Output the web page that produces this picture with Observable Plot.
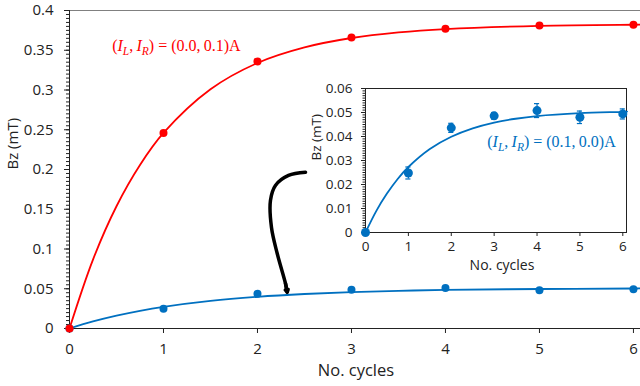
<!DOCTYPE html>
<html>
<head>
<meta charset="utf-8">
<script src="https://cdn.jsdelivr.net/npm/d3@7"></script>
<script src="https://cdn.jsdelivr.net/npm/@observablehq/plot@0.6"></script>
<style>
  html, body { margin: 0; padding: 0; background: white; }
  #wrap { position: relative; width: 640px; height: 386px; }
  #inset { position: absolute; left: 300px; top: 75px; }
</style>
</head>
<body>
<div id="wrap"><div id="main"></div><div id="inset"></div></div>
<script>
// ---- data ----
const cycles = [0, 1, 2, 3, 4, 5, 6];
const bzRed = [0, 0.246, 0.336, 0.366, 0.377, 0.381, 0.382];
const bzBlue = [0, 0.0248, 0.0436, 0.0486, 0.0508, 0.0480, 0.0494];
const bzBlueErr = [0, 0.0025, 0.0019, 0.0014, 0.0029, 0.0026, 0.0021];
const fitX = [0, 0.25, 0.5, 0.75, 1, 1.5, 2, 2.5, 3, 3.5, 4, 5, 6, 6.1];
const fitRed = [0, 0.0867, 0.1538, 0.2057, 0.246, 0.3009, 0.334, 0.3536, 0.3654, 0.3725, 0.3767, 0.3807, 0.3821, 0.3822];
const fitBlue = [0, 0.0089, 0.0162, 0.0223, 0.0273, 0.0348, 0.0399, 0.0434, 0.0458, 0.0474, 0.0485, 0.0497, 0.0503, 0.0504];
const arrowX = [2.511, 2.33, 2.191, 2.138, 2.149, 2.21, 2.298, 2.316];
const arrowY = [0.1966, 0.1925, 0.1799, 0.161, 0.127, 0.0943, 0.0566, 0.0457];

const xTicks = [0, 1, 2, 3, 4, 5, 6];
const yTicksMain = [0, 0.05, 0.1, 0.15, 0.2, 0.25, 0.3, 0.35, 0.4];
const yLabelsMain = ["0", "0.05", "0.1", "0.15", "0.2", "0.25", "0.3", "0.35", "0.4"];
const yTicksInset = [0, 0.01, 0.02, 0.03, 0.04, 0.05, 0.06];
const yLabelsInset = ["0", "0.01", "0.02", "0.03", "0.04", "0.05", "0.06"];
const xTitle = "No. cycles";
const yTitle = "Bz (mT)";
const redLabelKey = "RED_LABEL";
const blueLabelKey = "BLUE_LABEL";
const redLabelParts = [["(", ""], ["I", "i"], ["L", "s"], [",\u2009", ""], ["I", "i"], ["R", "s"], [") = (0.0,\u20090.1)A", ""]];
const blueLabelParts = [["(", ""], ["I", "i"], ["L", "s"], [",\u2009", ""], ["I", "i"], ["R", "s"], [") = (0.1,\u20090.0)A", ""]];

const RED = "#ff0000", BLUE = "#0070c0";

const pts = cycles.map((c, i) => ({x: c, red: bzRed[i], blue: bzBlue[i], err: bzBlueErr[i]}));
const fit = fitX.map((c, i) => ({x: c, red: fitRed[i], blue: fitBlue[i]}));
const arrow = arrowX.map((c, i) => ({x: c, y: arrowY[i]}));
const arrowHead = [{x1: arrowX[arrowX.length - 2], y1: arrowY[arrowY.length - 2], x2: arrowX[arrowX.length - 1], y2: arrowY[arrowY.length - 1]}];

const font = "'Open Sans', sans-serif";
const mathFont = "'Liberation Serif', 'DejaVu Serif', serif";

const main = Plot.plot({
  width: 640, height: 386,
  marginLeft: 69, marginRight: 0, marginTop: 10, marginBottom: 58,
  style: {fontFamily: font, background: "white", color: "#222", overflow: "visible"},
  x: {domain: [0, 6.075]},
  y: {domain: [0, 0.4]},
  marks: [
    Plot.ruleY([0.4], {stroke: "#808080"}),
    Plot.axisY(d3.range(0, 0.4001, 0.005), {tickSize: 3, fill: "none", label: null, stroke: "#222"}),
    Plot.axisY(yTicksMain, {tickSize: 5, tickPadding: 11, fontSize: 15, label: null, stroke: "#222", fill: "#222",
      tickFormat: d => yLabelsMain[yTicksMain.indexOf(d)]}),
    Plot.axisX(xTicks, {tickSize: 5, tickPadding: 10, fontSize: 15, label: null, stroke: "#222", fill: "#222"}),
    Plot.ruleY([0], {stroke: "#222"}),
    Plot.ruleX([0], {stroke: "#222"}),
    Plot.text([yTitle], {frameAnchor: "left", rotate: -90, dx: -56, fontSize: 15, fill: "#222"}),
    Plot.text([xTitle], {frameAnchor: "bottom", dy: 47, dx: 1, fontSize: 16.5, fill: "#222"}),
    Plot.line(fit, {x: "x", y: "blue", stroke: BLUE, strokeWidth: 1.8, curve: "catmull-rom"}),
    Plot.line(fit, {x: "x", y: "red", stroke: RED, strokeWidth: 1.8, curve: "catmull-rom"}),
    Plot.dot(pts, {x: "x", y: "blue", r: 4, fill: BLUE}),
    Plot.dot(pts, {x: "x", y: "red", r: 4, fill: RED}),
    Plot.line(arrow, {x: "x", y: "y", stroke: "black", strokeWidth: 3.5, curve: "catmull-rom"}),
    Plot.arrow(arrowHead, {x1: "x1", y1: "y1", x2: "x2", y2: "y2", stroke: "black", strokeWidth: 3.5, headLength: 11, headAngle: 60}),
    Plot.text([redLabelKey], {x: 0.454, y: 0.355, textAnchor: "start", fontSize: 16, fill: RED, fontFamily: mathFont})
  ]
});
document.getElementById("main").appendChild(main);

const inset = Plot.plot({
  width: 340, height: 200,
  marginLeft: 65, marginRight: 14, marginTop: 13, marginBottom: 43,
  style: {fontFamily: font, background: "transparent", color: "#222", overflow: "visible"},
  x: {domain: [0, 6.086]},
  y: {domain: [0, 0.06]},
  marks: [
    Plot.frame({stroke: "#222"}),
    Plot.axisY(d3.range(0, 0.06001, 0.001), {tickSize: 2.5, fill: "none", label: null, stroke: "#222"}),
    Plot.axisY(yTicksInset, {tickSize: 4, tickPadding: 9, fontSize: 13.5, label: null, stroke: "#222", fill: "#222",
      tickFormat: d => yLabelsInset[yTicksInset.indexOf(d)]}),
    Plot.axisX(xTicks, {tickSize: 4, tickPadding: 5, fontSize: 13.5, label: null, stroke: "#222", fill: "#222"}),
    Plot.text([yTitle], {frameAnchor: "left", rotate: -90, dx: -49, fontSize: 13.5, fill: "#222"}),
    Plot.text([xTitle], {frameAnchor: "bottom", dy: 37.5, dx: 6, fontSize: 14, fill: "#222"}),
    Plot.line(fit, {x: "x", y: "blue", stroke: BLUE, strokeWidth: 1.8, curve: "catmull-rom"}),
    Plot.ruleX(pts.filter(d => d.err > 0), {x: "x", y1: d => d.blue - d.err, y2: d => d.blue + d.err, stroke: BLUE, strokeWidth: 1.2}),
    Plot.ruleY(pts.filter(d => d.err > 0), {y: d => d.blue - d.err, x1: d => d.x - 0.06, x2: d => d.x + 0.06, stroke: BLUE, strokeWidth: 1.2}),
    Plot.ruleY(pts.filter(d => d.err > 0), {y: d => d.blue + d.err, x1: d => d.x - 0.06, x2: d => d.x + 0.06, stroke: BLUE, strokeWidth: 1.2}),
    Plot.dot(pts, {x: "x", y: "blue", r: 4.5, fill: BLUE}),
    Plot.text([blueLabelKey], {x: 2.84, y: 0.0378, textAnchor: "start", fontSize: 16, fill: BLUE, fontFamily: mathFont})
  ]
});
document.getElementById("inset").appendChild(inset);

function rich(svg, key, parts) {
  d3.select(svg).selectAll("text").filter(function() { return this.textContent === key; }).each(function() {
    const t = d3.select(this);
    t.text(null);
    let shifted = false;
    for (const [s, kind] of parts) {
      const ts = t.append("tspan").text(s);
      if (kind === "i" || kind === "s") ts.attr("font-style", "italic");
      if (kind === "s") {
        ts.attr("font-size", "0.72em").attr("dy", shifted ? null : 4);
        shifted = true;
      } else if (shifted) {
        ts.attr("dy", -4);
        shifted = false;
      }
    }
  });
}
rich(main, redLabelKey, redLabelParts);
rich(inset, blueLabelKey, blueLabelParts);
</script>
</body>
</html>
